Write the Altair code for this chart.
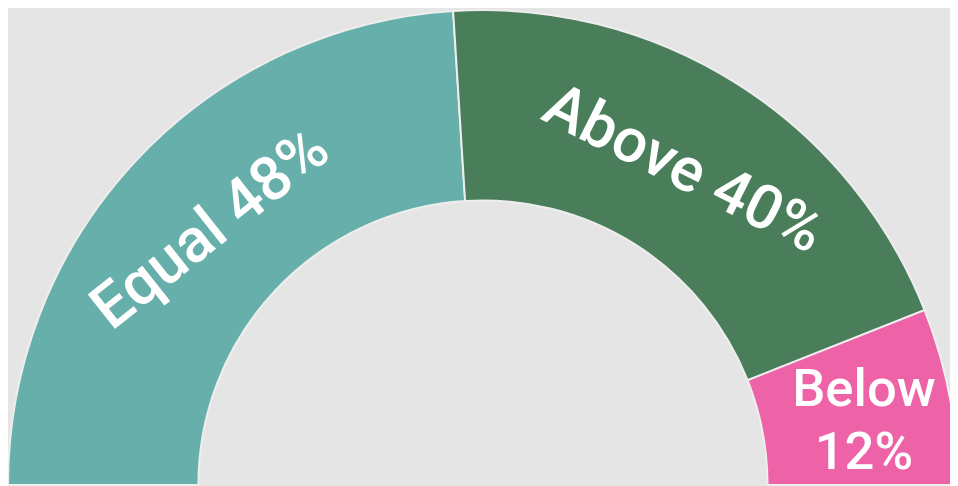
import altair as alt
import pandas as pd
import math

categories = ["Equal", "Above", "Below"]
values = [48, 40, 12]
order = [1, 2, 3]
colors = ["#67afab", "#4a7d5a", "#ee63a8"]

df = pd.DataFrame({"cat": categories, "v": values, "ord": order})

base = alt.Chart(df).transform_window(
    cum="sum(v)", sort=[alt.SortField("ord")], frame=[None, 0]
).transform_joinaggregate(total="sum(v)").transform_calculate(
    mid="(datum.cum - datum.v/2)/datum.total*180 - 90",
).transform_calculate(
    ang="(datum.mid * 0.82 + 360) % 360",
    label1="datum.cat + ' ' + datum.v + '%'",
    label2="[datum.cat, datum.v + '%']",
)

cx, cy = 479, 479
theta_scale = alt.Scale(range=[-math.pi / 2, math.pi / 2])

arcs = base.mark_arc(
    innerRadius=287, outerRadius=479, stroke="#eeeeee", strokeWidth=2
).encode(
    theta=alt.Theta("v:Q", stack=True, scale=theta_scale),
    color=alt.Color("cat:N", scale=alt.Scale(domain=categories, range=colors), legend=None),
    order=alt.Order("ord:Q"),
    x=alt.value(cx),
    y=alt.value(cy),
)

big = base.mark_text(
    radius=377, font="Roboto", fontSize=62, fontWeight=500, color="white",
    baseline="middle", align="center"
).encode(
    theta=alt.Theta("v:Q", stack=True, scale=theta_scale),
    text=alt.Text("label1:N"),
    angle=alt.Angle("ang:Q", scale=None),
    opacity=alt.condition("datum.v >= 20", alt.value(1), alt.value(0)),
    order=alt.Order("ord:Q"),
    x=alt.value(cx),
    y=alt.value(cy),
)

small = base.mark_text(
    radius=383, font="Roboto", fontSize=53, fontWeight=500, color="white",
    baseline="middle", align="center", lineHeight=64, dx=8, dy=-24
).encode(
    theta=alt.Theta("v:Q", stack=True, scale=theta_scale),
    text=alt.Text("label2:N"),
    opacity=alt.condition("datum.v < 20", alt.value(1), alt.value(0)),
    order=alt.Order("ord:Q"),
    x=alt.value(cx),
    y=alt.value(cy),
)

chart = alt.layer(arcs, big, small).properties(
    width=950, height=478, background="#e5e5e5", padding=0,
    autosize=alt.AutoSizeParams(type="none"),
).configure_view(stroke=None)

chart.save("out.html", embed_options={"renderer": "svg", "actions": False})
